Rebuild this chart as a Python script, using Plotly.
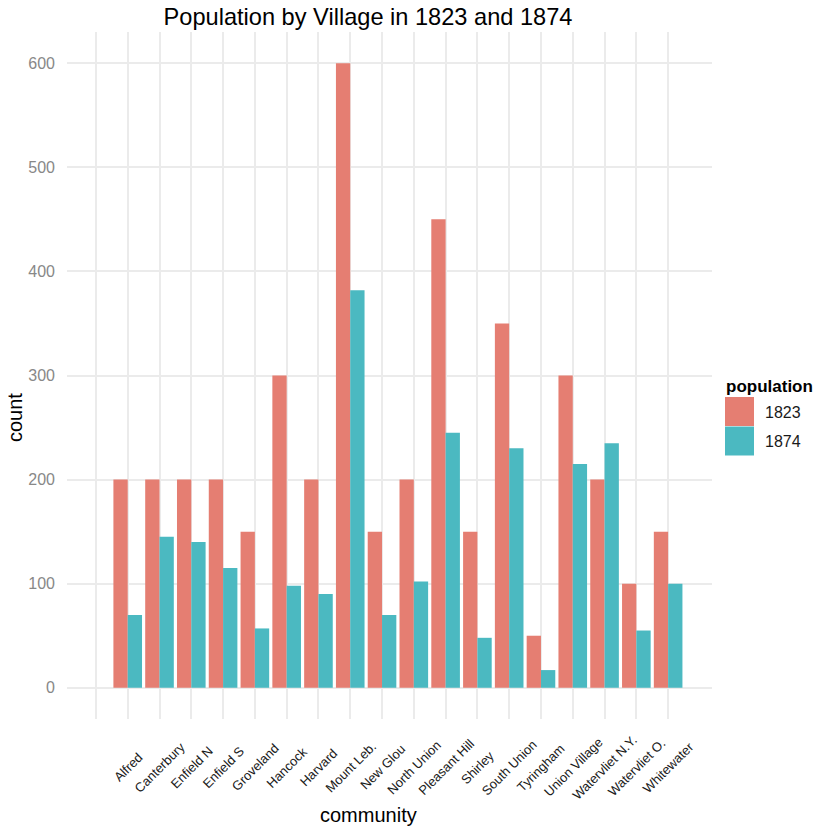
"""Grouped bar chart: village populations in 1823 vs 1874 (ggplot-like minimal style)."""

import plotly.graph_objects as go

communities = [
    "Alfred", "Canterbury", "Enfield N", "Enfield S", "Groveland", "Hancock",
    "Harvard", "Mount Leb.", "New Glou", "North Union", "Pleasant Hill",
    "Shirley", "South Union", "Tyringham", "Union Village", "Watervliet N.Y.",
    "Watervliet O.", "Whitewater",
]
pop_1823 = [200, 200, 200, 200, 150, 300, 200, 600, 150, 200, 450, 150, 350, 50, 300, 200, 100, 150]
pop_1874 = [70, 145, 140, 115, 57, 98, 90, 382, 70, 102, 245, 48, 230, 17, 215, 235, 55, 100]
years = ["1823", "1874"]

RED = "#E57E72"
TEAL = "#4BB9C1"
GRID = "#EBEBEB"
FONT = "Liberation Sans, Arial, Helvetica, sans-serif"

W, H = 817, 828
M_L, M_R, M_T, M_B = 67, 105, 32, 109
PW, PH = W - M_L - M_R, H - M_T - M_B


def px(x, y):
    """Pixel position on the page -> paper coordinates."""
    return (x - M_L) / PW, (H - M_B - y) / PH


# slot 0 is an empty level, communities start at 1
xpos = list(range(1, len(communities) + 1))

fig = go.Figure()
fig.add_trace(go.Bar(x=xpos, y=pop_1823, name=years[0], marker=dict(color=RED, line_width=0),
                     showlegend=False))
fig.add_trace(go.Bar(x=xpos, y=pop_1874, name=years[1], marker=dict(color=TEAL, line_width=0),
                     showlegend=False))

# x tick labels: rotated 45 deg and centred under each category (ggplot hjust=0.5)
_, lab_y = px(0, 767)
for xp, name in zip(xpos, communities):
    fig.add_annotation(xref="x", yref="paper", x=xp, y=lab_y, text=name, showarrow=False,
                       textangle=-45, xanchor="center", yanchor="middle",
                       font=dict(size=13, color="#1a1a1a"))

# hand-drawn legend with large ggplot-style keys
for i, (yr, col) in enumerate(zip(years, [RED, TEAL])):
    x0, y0 = px(725, 397 + 29.5 * i)
    x1, y1 = px(754, 426 + 29.5 * i)
    fig.add_shape(type="rect", xref="paper", yref="paper", x0=x0, x1=x1, y0=y0, y1=y1,
                  fillcolor=col, line_width=0)
    lx, ly = px(763, 412 + 29.5 * i)
    fig.add_annotation(xref="paper", yref="paper", x=lx, y=ly, text=yr, showarrow=False,
                       xanchor="left", yanchor="middle", font=dict(size=16, color="#1a1a1a"))
tx, ty = px(724, 386)
fig.add_annotation(xref="paper", yref="paper", x=tx, y=ty, text="<b>population</b>",
                   showarrow=False, xanchor="left", yanchor="middle",
                   font=dict(size=17, color="#000000"))

# axis titles
cx, cy = px(368, 815)
fig.add_annotation(xref="paper", yref="paper", x=cx, y=cy, text="community", showarrow=False,
                   xanchor="center", yanchor="middle", font=dict(size=20, color="#000000"))
cx, cy = px(15, 418)
fig.add_annotation(xref="paper", yref="paper", x=cx, y=cy, text="count", showarrow=False,
                   textangle=-90, xanchor="center", yanchor="middle",
                   font=dict(size=20, color="#000000"))

fig.update_layout(
    width=W, height=H,
    margin=dict(l=M_L, r=M_R, t=M_T, b=M_B),
    barmode="group", bargap=0.1, bargroupgap=0,
    plot_bgcolor="white", paper_bgcolor="white",
    font=dict(family=FONT, color="#000000"),
    title=dict(text="Population by Village in 1823 and 1874", x=368 / W, xanchor="center",
               y=1 - 17 / H, yanchor="middle", font=dict(size=23.6, color="#000000")),
    showlegend=False,
)
fig.update_xaxes(
    range=[-0.91, 19.38],
    tickmode="array", tickvals=[0] + xpos, showticklabels=False,
    showgrid=True, gridcolor=GRID, gridwidth=2, zeroline=False, showline=False,
)
fig.update_yaxes(
    range=[-30, 630], tickvals=[0, 100, 200, 300, 400, 500, 600],
    tickfont=dict(size=16, color="#888888"), ticklabelstandoff=11,
    showgrid=True, gridcolor=GRID, gridwidth=2, zeroline=False, showline=False,
)

# drop the browser's default body margin so the figure fills the window
fig.write_html("out.html", config={"displayModeBar": False},
               post_script="document.body.style.margin = '0';")
